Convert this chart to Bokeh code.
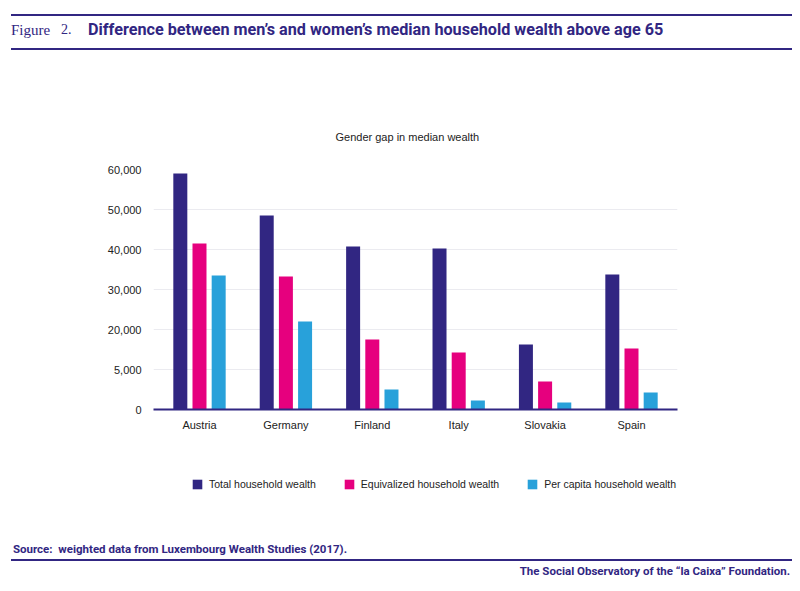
from bokeh.embed import file_html
from bokeh.layouts import column
from bokeh.models import (ColumnDataSource, Div, FactorRange, FixedTicker, Legend,
                          LegendItem, Range1d, Title)
from bokeh.plotting import figure
from bokeh.resources import INLINE
from bokeh.transform import dodge

countries = ["Austria", "Germany", "Finland", "Italy", "Slovakia", "Spain"]
total_wealth = [59000, 48500, 40750, 40250, 16250, 33750]
equivalized_wealth = [41500, 33250, 17500, 14250, 7000, 15250]
per_capita_wealth = [33500, 22000, 5000, 2250, 1750, 4250]
series_names = ["Total household wealth", "Equivalized household wealth",
                "Per capita household wealth"]
series_colors = ["#312682", "#e6007e", "#28a1da"]
y_ticks = [0, 10000, 20000, 30000, 40000, 50000, 60000]
y_tick_labels = ["0", "5,000", "20,000", "30,000", "40,000", "50,000", "60,000"]

NAVY = "#312682"
SANS = "Liberation Sans"
BOLD = "Roboto"
W = 800


def rule(top):
    return (f'<div style="position:absolute;left:11px;top:{top}px;width:781px;'
            f'height:2px;background:{NAVY};"></div>')


def text(left, top, s, font, size, weight="bold", align="left"):
    pos = f"left:{left}px;" if align == "left" else f"right:{W - left}px;"
    return (f'<div style="position:absolute;{pos}top:{top}px;white-space:nowrap;'
            f"font-family:'{font}';font-size:{size}px;font-weight:{weight};"
            f'line-height:20px;color:{NAVY};">{s}</div>')


# header
head = Div(width=W, height=60, margin=0, text=(
    f'<div style="position:relative;width:{W}px;height:60px;">'
    + rule(14)
    + text(11, 20, "Figure", "Liberation Serif", 15, "normal")
    + text(61, 20, "2.", "Liberation Serif", 14, "normal")
    + text(88, 20, "Difference between men’s and women’s median household wealth above age 65",
           BOLD, 16.2)
    + rule(48)
    + "</div>"))

# chart
source = ColumnDataSource(dict(country=countries, total=total_wealth,
                               equiv=equivalized_wealth, percap=per_capita_wealth))

p = figure(x_range=FactorRange(*countries, range_padding=0.0324, range_padding_units="absolute"),
           y_range=Range1d(0, 60000), frame_width=524, frame_height=240,
           min_border_left=153, min_border_right=123, min_border_top=109, min_border_bottom=28,
           tools="", toolbar_location=None, outline_line_color=None, output_backend="svg",
           margin=0)

p.title = Title(text="Gender gap in median wealth", align="left", offset=182, standoff=54,
                text_font=SANS, text_font_size="11px", text_font_style="normal",
                text_color="#222222")

fields = ["total", "equiv", "percap"]
offsets = [-0.222, 0.0, 0.222]
for field, off, color in zip(fields, offsets, series_colors):
    p.vbar(x=dodge("country", off, range=p.x_range), top=field, width=0.162,
           source=source, fill_color=color, line_color=None)

p.xgrid.grid_line_color = None
p.ygrid.grid_line_color = "#ebebf0"
p.yaxis.ticker = FixedTicker(ticks=y_ticks)
p.yaxis.major_label_overrides = dict(zip(y_ticks, y_tick_labels))
p.yaxis.axis_line_color = None
p.axis.major_tick_line_color = None
p.axis.minor_tick_line_color = None
p.axis.major_tick_out = 0
p.axis.major_tick_in = 0
p.yaxis.major_label_standoff = 12
p.xaxis.major_label_standoff = 9
p.xaxis.axis_line_color = NAVY
p.xaxis.axis_line_width = 2
p.axis.major_label_text_font = SANS
p.axis.major_label_text_font_size = "11px"
p.axis.major_label_text_color = "#222222"

# legend strip: its frame lines up with the chart frame
lg = figure(x_range=p.x_range, y_range=Range1d(0, 1), frame_width=524, frame_height=60,
            min_border_left=153, min_border_right=123, min_border_top=0, min_border_bottom=0,
            x_axis_type=None, y_axis_type=None, tools="", toolbar_location=None,
            outline_line_color=None, output_backend="svg", margin=0)
# zero-height bars, only there to give the legend its swatches
swatches = [lg.vbar(x="country", top=0, bottom=0, width=0.162, source=source,
                    fill_color=c, line_color=None)
            for c in series_colors]
legend = Legend(items=[LegendItem(label=n, renderers=[r]) for n, r in zip(series_names, swatches)],
                orientation="horizontal", location=(38, 7.5), margin=0, padding=0, spacing=27,
                glyph_width=12, glyph_height=12, label_height=12, label_standoff=6,
                border_line_color=None, background_fill_alpha=0,
                label_text_font=SANS, label_text_font_size="10.5px", label_text_color="#222222")
lg.add_layout(legend, "center")

# footer
foot = Div(width=W, height=94, margin=0, text=(
    f'<div style="position:relative;width:{W}px;height:94px;">'
    + text(13, 42, "Source:&nbsp; weighted data from Luxembourg Wealth Studies (2017).", BOLD, 11.5)
    + rule(62)
    + text(790, 64, "The Social Observatory of the “la Caixa” Foundation.", BOLD, 11.5, align="right")
    + "</div>"))

page = column(head, p, lg, foot, spacing=0)
open("out.html", "w").write(file_html(page, INLINE))
